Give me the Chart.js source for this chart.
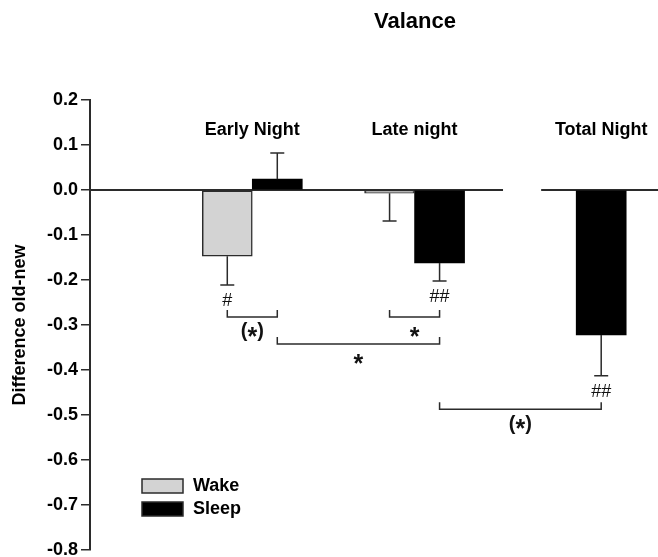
<!DOCTYPE html>
<html>
<head>
<meta charset="utf-8">
<script src="https://cdn.jsdelivr.net/npm/chart.js@4.4.1/dist/chart.umd.min.js"></script>
<style>
  html, body { margin: 0; padding: 0; background: #fff; }
  #wrap { width: 658px; height: 557px; }
</style>
</head>
<body>
<div id="wrap"><canvas id="valanceChart" width="658" height="557"></canvas></div>
<script>
// Données
const groups = ['Early Night', 'Late night', 'Total Night'];
const wakeValues = [-0.147, -0.007, null];
const sleepValues = [0.024, -0.162, -0.322];
const wakeErrors = [0.064, 0.062, null];
const sleepErrors = [0.058, 0.040, 0.091];
const wakeMarks = ['#', '', ''];
const sleepMarks = ['', '##', '##'];
const yTicks = [0.2, 0.1, 0.0, -0.1, -0.2, -0.3, -0.4, -0.5, -0.6, -0.7, -0.8];
const yTickLabels = ['0.2', '0.1', '0.0', '-0.1', '-0.2', '-0.3', '-0.4', '-0.5', '-0.6', '-0.7', '-0.8'];
// comparaisons : [dataset, index] -> [dataset, index]
const comparisons = [
  { from: [0, 0], to: [1, 0], label: '(*)' },
  { from: [0, 1], to: [1, 1], label: '*' },
  { from: [1, 0], to: [1, 1], label: '*' },
  { from: [1, 1], to: [1, 2], label: '(*)' }
];

// mise en page (pas des données)
const groupPos = [1, 2, 3.15];
const bracketLevels = [-0.282, -0.282, -0.342, -0.487];
const FONT = "'Liberation Sans', Arial, Helvetica, sans-serif";
const ink = '#2b2b2b';

const ctx = document.getElementById('valanceChart').getContext('2d');

// étoile centrée verticalement comme dans la figure
function drawSig(ctx, text, cx, cy) {
  const parts = text.split('');
  const fontFor = c => (c === '*' ? 'bold 25px ' : 'bold 20px ') + FONT;
  let total = 0;
  const widths = parts.map(c => { ctx.font = fontFor(c); const w = ctx.measureText(c).width; total += w; return w; });
  let xx = cx - total / 2;
  ctx.textAlign = 'left';
  ctx.textBaseline = 'middle';
  parts.forEach((c, i) => {
    ctx.font = fontFor(c);
    ctx.fillText(c, xx, c === '*' ? cy + 6 : cy);
    xx += widths[i];
  });
}

const annotate = {
  id: 'annotate',
  beforeDatasetsDraw(chart, args, opts) {
    const { ctx, chartArea, scales: { x, y } } = chart;
    const y0 = y.getPixelForValue(0);
    ctx.save();
    ctx.strokeStyle = ink;
    ctx.lineWidth = 2;
    ctx.beginPath();
    ctx.moveTo(chartArea.left, y0);
    ctx.lineTo(x.getPixelForValue(opts.zeroGap[0]), y0);
    ctx.moveTo(x.getPixelForValue(opts.zeroGap[1]), y0);
    ctx.lineTo(chartArea.right, y0);
    ctx.stroke();
    ctx.restore();
  },
  afterDatasetsDraw(chart, args, opts) {
    const { ctx, scales: { x, y } } = chart;
    ctx.save();
    ctx.strokeStyle = ink;
    ctx.fillStyle = '#111';
    ctx.lineWidth = 1.5;

    // barres d'erreur + marques #
    chart.data.datasets.forEach((ds, i) => {
      const meta = chart.getDatasetMeta(i);
      ds.data.forEach((pt, j) => {
        if (pt.y === null) return;
        const bar = meta.data[j];
        const end = pt.y >= 0 ? pt.y + ds.errors[j] : pt.y - ds.errors[j];
        const yEnd = y.getPixelForValue(end);
        ctx.beginPath();
        ctx.moveTo(bar.x, bar.y);
        ctx.lineTo(bar.x, yEnd);
        ctx.moveTo(bar.x - 7, yEnd);
        ctx.lineTo(bar.x + 7, yEnd);
        ctx.stroke();
        if (ds.marks[j]) {
          ctx.font = '18px ' + FONT;
          ctx.textAlign = 'center';
          ctx.textBaseline = 'middle';
          ctx.fillText(ds.marks[j], bar.x, yEnd + 16);
        }
      });
    });

    // crochets de comparaison
    comparisons.forEach((c, k) => {
      const a = chart.getDatasetMeta(c.from[0]).data[c.from[1]];
      const b = chart.getDatasetMeta(c.to[0]).data[c.to[1]];
      const yl = y.getPixelForValue(bracketLevels[k]);
      ctx.beginPath();
      ctx.moveTo(a.x, yl - 7);
      ctx.lineTo(a.x, yl);
      ctx.lineTo(b.x, yl);
      ctx.lineTo(b.x, yl - 7);
      ctx.stroke();
      drawSig(ctx, c.label, (a.x + b.x) / 2, yl + 15);
    });

    // noms des groupes
    ctx.fillStyle = '#000';
    ctx.textAlign = 'center';
    ctx.textBaseline = 'middle';
    ctx.font = 'bold 18px ' + FONT;
    groups.forEach((g, i) => {
      ctx.fillText(g, x.getPixelForValue(groupPos[i]), opts.groupLabelY);
    });

    // titre
    ctx.font = 'bold 22px ' + FONT;
    ctx.fillText(opts.title, opts.titleX, opts.titleY);

    // légende
    ctx.textAlign = 'left';
    ctx.font = 'bold 18px ' + FONT;
    chart.data.datasets.forEach((ds, i) => {
      const top = opts.legendY + i * 23;
      ctx.fillStyle = ds.backgroundColor;
      ctx.fillRect(opts.legendX, top, 41, 14);
      ctx.lineWidth = 1.5;
      ctx.strokeRect(opts.legendX, top, 41, 14);
      ctx.fillStyle = '#000';
      ctx.fillText(ds.label, opts.legendX + 51, top + 7);
    });
    ctx.restore();
  }
};

const chart = new Chart(ctx, {
  type: 'bar',
  data: {
    datasets: [{
      label: 'Wake',
      data: wakeValues.map((v, i) => ({ x: groupPos[i], y: v })),
      errors: wakeErrors,
      marks: wakeMarks,
      backgroundColor: '#d3d3d3',
      borderColor: ink,
      borderWidth: 1.5,
      borderSkipped: false
    }, {
      label: 'Sleep',
      data: sleepValues.map((v, i) => ({ x: groupPos[i], y: v })),
      errors: sleepErrors,
      marks: sleepMarks,
      backgroundColor: '#000000',
      borderColor: '#000000',
      borderWidth: 0
    }]
  },
  options: {
    responsive: false,
    animation: false,
    barThickness: 50,
    skipNull: true,
    layout: { padding: { top: 100, bottom: 7, left: 0, right: 0 } },
    scales: {
      x: {
        type: 'linear',
        min: 0,
        max: 3.5,
        offset: false,
        display: false,
        grid: { offset: false }
      },
      y: {
        min: -0.8,
        max: 0.2,
        afterFit: s => { s.width = 90; s.paddingTop = 0; s.paddingBottom = 0; },
        afterBuildTicks: s => { s.ticks = yTicks.map(v => ({ value: v })); },
        ticks: {
          callback: (v, i) => yTickLabels[i],
          color: '#000',
          font: { family: FONT, size: 18, weight: 'bold' },
          padding: 3
        },
        grid: { drawOnChartArea: false, drawTicks: true, tickLength: 9, tickColor: ink, lineWidth: 1.5 },
        border: { display: true, color: ink, width: 2 },
        title: {
          display: true,
          text: 'Difference old-new',
          color: '#000',
          font: { family: FONT, size: 18, weight: 'bold' },
          padding: { top: 9, bottom: 0 }
        }
      }
    },
    plugins: {
      legend: { display: false },
      tooltip: { enabled: false },
      annotate: {
        zeroGap: [2.545, 2.78],
        groupLabelY: 130,
        title: 'Valance',
        titleX: 415,
        titleY: 22,
        legendX: 142,
        legendY: 479
      }
    }
  },
  plugins: [annotate]
});
</script>
</body>
</html>
